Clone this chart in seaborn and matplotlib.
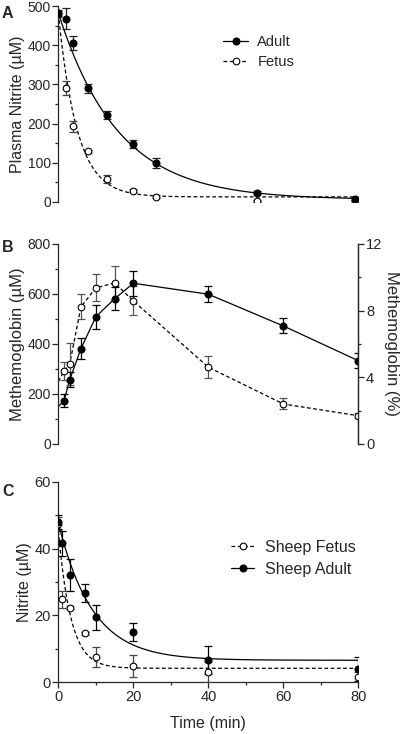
import numpy as np
import pandas as pd
import matplotlib
matplotlib.use("Agg")
import matplotlib.pyplot as plt
from matplotlib.lines import Line2D
from matplotlib.ticker import MultipleLocator
import seaborn as sns

sns.set_style("ticks")
plt.rcParams["font.family"] = ["Liberation Sans", "DejaVu Sans"]
plt.rcParams["axes.linewidth"] = 0.9

# ---- Panel A: plasma nitrite ----
a_time = [0, 2, 4, 8, 13, 20, 26, 53, 79]
a_adult = [483, 468, 406, 290, 223, 148, 99, 24, 8]
a_adult_err = [8, 26, 18, 12, 10, 10, 13, 4, 4]
a_fetus = [480, 290, 193, 129, 58, 29, 14, 2, 1]
a_fetus_err = [8, 18, 14, 4, 10, 4, 3, 3, 3]
# one-phase decay fits: (plateau, span, rate)
a_adult_fit = (6, 476, 0.063)
a_fetus_fit = (13, 467, 0.20)

# ---- Panel B: methemoglobin ----
b_time = [1.5, 3, 6, 10, 15, 20, 40, 60, 80]
b_adult = [173, 256, 381, 509, 581, 643, 599, 472, 333]
b_adult_err = [25, 30, 42, 48, 45, 50, 32, 30, 30]
b_fetus = [292, 319, 548, 625, 644, 572, 307, 160, 113]
b_fetus_err = [35, 85, 50, 55, 67, 58, 45, 22, 10]
b_start = (0, 150, 250)  # line start at axis (time, adult, fetus)

# ---- Panel C: sheep nitrite ----
c_time = [0, 1, 3, 7, 10, 20, 40, 80]
c_adult = [47.9, 41.6, 32.1, 26.6, 19.4, 15.1, 6.7, 4.0]
c_adult_err = [2.0, 3.8, 4.8, 2.7, 3.8, 2.7, 4.2, 3.7]
c_fetus = [47.5, 24.8, 22.3, 14.7, 7.7, 4.9, 3.2, 1.7]
c_fetus_err = [2.0, 2.6, 0.5, 0.5, 3.0, 3.4, 3.0, 1.5]
c_adult_fit = (6.6, 41, 0.11)
c_fetus_fit = (4.2, 41, 0.30)

FILLED = dict(marker="o", markersize=4.8, markerfacecolor="black", markeredgecolor="black")
HOLLOW = dict(marker="o", markersize=4.8, markerfacecolor="white", markeredgecolor="black",
              markeredgewidth=0.8)
DASH = (0, (3, 2))


def decay_curve(ax, fit, t_end, ls):
    plateau, span, rate = fit
    t = np.linspace(0, t_end, 300)
    df = pd.DataFrame({"t": t, "y": plateau + span * np.exp(-rate * t)})
    sns.lineplot(data=df, x="t", y="y", ax=ax, color="black", lw=0.9, linestyle=ls)


def points(ax, x, y, err, style, ecolor):
    ax.errorbar(x, y, yerr=err, fmt="none", ecolor=ecolor, elinewidth=0.9,
                capsize=2.6, capthick=0.9, zorder=3)
    ax.plot(x, y, linestyle="none", zorder=4, **style)


def style_axis(ax, size=10):
    ax.tick_params(axis="both", which="major", length=4, width=0.9, labelsize=size, pad=1.5)
    ax.tick_params(axis="both", which="minor", length=2.5, width=0.9)
    ax.set_xlabel("")
    ax.set_ylabel("")


fig = plt.figure(figsize=(4, 7.34), dpi=100)
left, width = 0.146, 0.75

# Panel A
axA = fig.add_axes([left, 0.7248, width, 0.267])
decay_curve(axA, a_adult_fit, 79, "-")
decay_curve(axA, a_fetus_fit, 79, DASH)
points(axA, a_time, a_fetus, a_fetus_err, HOLLOW, "#444444")
points(axA, a_time, a_adult, a_adult_err, FILLED, "#222222")
axA.set_xlim(0, 80)
axA.set_ylim(0, 500)
style_axis(axA)
axA.yaxis.set_major_locator(MultipleLocator(100))
axA.yaxis.set_minor_locator(MultipleLocator(50))
axA.set_xticks([])
for s in ["top", "right", "bottom"]:
    axA.spines[s].set_visible(False)
axA.set_ylabel("Plasma Nitrite (\u00b5M)", fontsize=11.5, labelpad=2)
axA.legend(handles=[Line2D([], [], color="black", lw=0.9, **FILLED),
                    Line2D([], [], color="black", lw=0.9, linestyle=DASH, **HOLLOW)],
           labels=["Adult", "Fetus"], loc="upper left", bbox_to_anchor=(0.525, 0.89),
           frameon=False, fontsize=10.5, handlelength=1.7, handletextpad=0.65,
           borderpad=0, labelspacing=0.4)

# Panel B
axB = fig.add_axes([left, 0.3951, width, 0.2725])
adult_line = pd.DataFrame({"t": [b_start[0]] + b_time, "y": [b_start[1]] + b_adult})
fetus_line = pd.DataFrame({"t": [b_start[0]] + b_time, "y": [b_start[2]] + b_fetus})
sns.lineplot(data=fetus_line, x="t", y="y", ax=axB, color="black", lw=0.9, linestyle=DASH)
sns.lineplot(data=adult_line, x="t", y="y", ax=axB, color="black", lw=0.9)
points(axB, b_time, b_fetus, b_fetus_err, HOLLOW, "#555555")
points(axB, b_time, b_adult, b_adult_err, FILLED, "black")
axB.set_xlim(0, 80)
axB.set_ylim(0, 800)
style_axis(axB)
axB.yaxis.set_major_locator(MultipleLocator(200))
axB.yaxis.set_minor_locator(MultipleLocator(100))
axB.set_xticks([])
for s in ["top", "bottom"]:
    axB.spines[s].set_visible(False)
axB.set_ylabel("Methemoglobin (\u00b5M)", fontsize=12, labelpad=2)
axB2 = axB.twinx()
axB2.set_ylim(0, 12)
axB2.yaxis.set_major_locator(MultipleLocator(4))
axB2.yaxis.set_minor_locator(MultipleLocator(2))
axB2.tick_params(axis="y", which="major", length=4, width=0.9, labelsize=10.5, pad=1.5)
axB2.tick_params(axis="y", which="minor", length=2.5, width=0.9)
for s in ["top", "bottom", "left"]:
    axB2.spines[s].set_visible(False)
axB2.set_ylabel("Methemoglobin (%)", fontsize=12, rotation=270, labelpad=12)

# Panel C
axC = fig.add_axes([left, 0.0704, width, 0.2733])
decay_curve(axC, c_adult_fit, 80, "-")
decay_curve(axC, c_fetus_fit, 80, DASH)
points(axC, c_time, c_fetus, c_fetus_err, HOLLOW, "#444444")
points(axC, c_time, c_adult, c_adult_err, FILLED, "black")
axC.set_xlim(0, 80)
axC.set_ylim(0, 60)
style_axis(axC, 10.5)
axC.xaxis.set_major_locator(MultipleLocator(20))
axC.xaxis.set_minor_locator(MultipleLocator(10))
axC.yaxis.set_major_locator(MultipleLocator(20))
axC.yaxis.set_minor_locator(MultipleLocator(10))
for s in ["top", "right"]:
    axC.spines[s].set_visible(False)
axC.set_ylabel("Nitrite (\u00b5M)", fontsize=11.5, labelpad=2)
axC.set_xlabel("Time (min)", fontsize=11.5, labelpad=9)
axC.legend(handles=[Line2D([], [], color="black", lw=0.9, linestyle=DASH, **HOLLOW),
                    Line2D([], [], color="black", lw=0.9, **FILLED)],
           labels=["Sheep Fetus", "Sheep Adult"], loc="upper left",
           bbox_to_anchor=(0.55, 0.75), frameon=False, fontsize=11.5, handlelength=1.4,
           handletextpad=0.7, borderpad=0, labelspacing=0.42)

for lab, y in [("A", 0.992), ("B", 0.673), ("C", 0.34)]:
    fig.text(0.005, y, lab, fontsize=11.5, fontweight="bold", va="top", ha="left")

fig.savefig("out.png", dpi=100)
